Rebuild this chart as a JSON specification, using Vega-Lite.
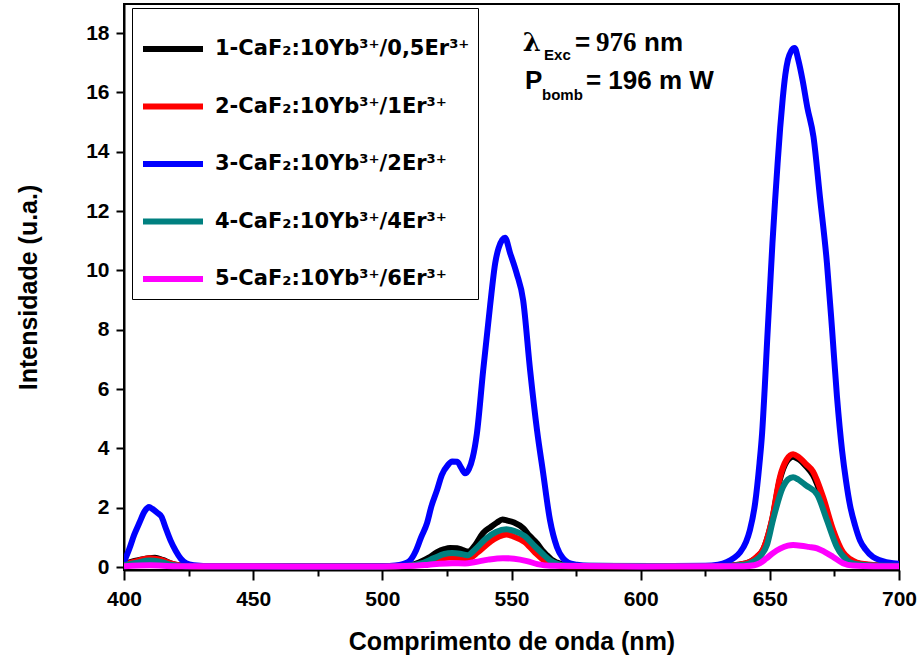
{
  "$schema": "https://vega.github.io/schema/vega-lite/v6.json",
  "width": 775,
  "height": 566,
  "autosize": {"type": "none"},
  "padding": {"left": 124, "top": 4, "right": 23, "bottom": 91},
  "background": "white",
  "config": {
    "font": "Liberation Sans",
    "view": {"stroke": "black", "strokeWidth": 2},
    "axis": {
      "domainColor": "black",
      "domainWidth": 2,
      "tickColor": "black",
      "tickWidth": 2,
      "labelColor": "black",
      "labelFont": "Liberation Sans",
      "labelFontWeight": "bold",
      "labelFontSize": 21,
      "titleFont": "Liberation Sans",
      "titleFontWeight": "bold",
      "titleFontSize": 25,
      "titleColor": "black",
      "grid": false
    }
  },
  "datasets": {
    "spectra": [
      {"amostra": "1-CaF₂:10Yb³⁺/0,5Er³⁺", "nm": 400, "i": 0.1},
      {"amostra": "1-CaF₂:10Yb³⁺/0,5Er³⁺", "nm": 405, "i": 0.22},
      {"amostra": "1-CaF₂:10Yb³⁺/0,5Er³⁺", "nm": 409.7, "i": 0.3},
      {"amostra": "1-CaF₂:10Yb³⁺/0,5Er³⁺", "nm": 412, "i": 0.31},
      {"amostra": "1-CaF₂:10Yb³⁺/0,5Er³⁺", "nm": 415, "i": 0.24},
      {"amostra": "1-CaF₂:10Yb³⁺/0,5Er³⁺", "nm": 419, "i": 0.1},
      {"amostra": "1-CaF₂:10Yb³⁺/0,5Er³⁺", "nm": 424, "i": 0.04},
      {"amostra": "1-CaF₂:10Yb³⁺/0,5Er³⁺", "nm": 430, "i": 0.02},
      {"amostra": "1-CaF₂:10Yb³⁺/0,5Er³⁺", "nm": 500, "i": 0.03},
      {"amostra": "1-CaF₂:10Yb³⁺/0,5Er³⁺", "nm": 510, "i": 0.05},
      {"amostra": "1-CaF₂:10Yb³⁺/0,5Er³⁺", "nm": 514.6, "i": 0.17},
      {"amostra": "1-CaF₂:10Yb³⁺/0,5Er³⁺", "nm": 518, "i": 0.32},
      {"amostra": "1-CaF₂:10Yb³⁺/0,5Er³⁺", "nm": 521.2, "i": 0.5},
      {"amostra": "1-CaF₂:10Yb³⁺/0,5Er³⁺", "nm": 524, "i": 0.6},
      {"amostra": "1-CaF₂:10Yb³⁺/0,5Er³⁺", "nm": 526.2, "i": 0.64},
      {"amostra": "1-CaF₂:10Yb³⁺/0,5Er³⁺", "nm": 529, "i": 0.63},
      {"amostra": "1-CaF₂:10Yb³⁺/0,5Er³⁺", "nm": 531.2, "i": 0.57},
      {"amostra": "1-CaF₂:10Yb³⁺/0,5Er³⁺", "nm": 533.2, "i": 0.52},
      {"amostra": "1-CaF₂:10Yb³⁺/0,5Er³⁺", "nm": 536, "i": 0.75},
      {"amostra": "1-CaF₂:10Yb³⁺/0,5Er³⁺", "nm": 539, "i": 1.15},
      {"amostra": "1-CaF₂:10Yb³⁺/0,5Er³⁺", "nm": 542, "i": 1.35},
      {"amostra": "1-CaF₂:10Yb³⁺/0,5Er³⁺", "nm": 544.4, "i": 1.5},
      {"amostra": "1-CaF₂:10Yb³⁺/0,5Er³⁺", "nm": 546.5, "i": 1.6},
      {"amostra": "1-CaF₂:10Yb³⁺/0,5Er³⁺", "nm": 548.3, "i": 1.57},
      {"amostra": "1-CaF₂:10Yb³⁺/0,5Er³⁺", "nm": 551, "i": 1.5},
      {"amostra": "1-CaF₂:10Yb³⁺/0,5Er³⁺", "nm": 554.5, "i": 1.31},
      {"amostra": "1-CaF₂:10Yb³⁺/0,5Er³⁺", "nm": 557, "i": 1.05},
      {"amostra": "1-CaF₂:10Yb³⁺/0,5Er³⁺", "nm": 559.9, "i": 0.8},
      {"amostra": "1-CaF₂:10Yb³⁺/0,5Er³⁺", "nm": 562, "i": 0.55},
      {"amostra": "1-CaF₂:10Yb³⁺/0,5Er³⁺", "nm": 563.7, "i": 0.4},
      {"amostra": "1-CaF₂:10Yb³⁺/0,5Er³⁺", "nm": 565.5, "i": 0.25},
      {"amostra": "1-CaF₂:10Yb³⁺/0,5Er³⁺", "nm": 567.6, "i": 0.15},
      {"amostra": "1-CaF₂:10Yb³⁺/0,5Er³⁺", "nm": 571, "i": 0.06},
      {"amostra": "1-CaF₂:10Yb³⁺/0,5Er³⁺", "nm": 576, "i": 0.03},
      {"amostra": "1-CaF₂:10Yb³⁺/0,5Er³⁺", "nm": 630, "i": 0.03},
      {"amostra": "1-CaF₂:10Yb³⁺/0,5Er³⁺", "nm": 638, "i": 0.08},
      {"amostra": "1-CaF₂:10Yb³⁺/0,5Er³⁺", "nm": 642.3, "i": 0.17},
      {"amostra": "1-CaF₂:10Yb³⁺/0,5Er³⁺", "nm": 645, "i": 0.33},
      {"amostra": "1-CaF₂:10Yb³⁺/0,5Er³⁺", "nm": 647.4, "i": 0.58},
      {"amostra": "1-CaF₂:10Yb³⁺/0,5Er³⁺", "nm": 650.8, "i": 1.55},
      {"amostra": "1-CaF₂:10Yb³⁺/0,5Er³⁺", "nm": 653.9, "i": 2.95},
      {"amostra": "1-CaF₂:10Yb³⁺/0,5Er³⁺", "nm": 656.5, "i": 3.55},
      {"amostra": "1-CaF₂:10Yb³⁺/0,5Er³⁺", "nm": 659, "i": 3.72},
      {"amostra": "1-CaF₂:10Yb³⁺/0,5Er³⁺", "nm": 661, "i": 3.64},
      {"amostra": "1-CaF₂:10Yb³⁺/0,5Er³⁺", "nm": 664, "i": 3.4},
      {"amostra": "1-CaF₂:10Yb³⁺/0,5Er³⁺", "nm": 666.7, "i": 3.1},
      {"amostra": "1-CaF₂:10Yb³⁺/0,5Er³⁺", "nm": 670.6, "i": 2.25},
      {"amostra": "1-CaF₂:10Yb³⁺/0,5Er³⁺", "nm": 674.5, "i": 1.18},
      {"amostra": "1-CaF₂:10Yb³⁺/0,5Er³⁺", "nm": 678.3, "i": 0.45},
      {"amostra": "1-CaF₂:10Yb³⁺/0,5Er³⁺", "nm": 681, "i": 0.25},
      {"amostra": "1-CaF₂:10Yb³⁺/0,5Er³⁺", "nm": 683.7, "i": 0.13},
      {"amostra": "1-CaF₂:10Yb³⁺/0,5Er³⁺", "nm": 690, "i": 0.06},
      {"amostra": "1-CaF₂:10Yb³⁺/0,5Er³⁺", "nm": 700, "i": 0.04},

      {"amostra": "2-CaF₂:10Yb³⁺/1Er³⁺", "nm": 400, "i": 0.08},
      {"amostra": "2-CaF₂:10Yb³⁺/1Er³⁺", "nm": 405, "i": 0.2},
      {"amostra": "2-CaF₂:10Yb³⁺/1Er³⁺", "nm": 409.7, "i": 0.3},
      {"amostra": "2-CaF₂:10Yb³⁺/1Er³⁺", "nm": 414, "i": 0.25},
      {"amostra": "2-CaF₂:10Yb³⁺/1Er³⁺", "nm": 418, "i": 0.12},
      {"amostra": "2-CaF₂:10Yb³⁺/1Er³⁺", "nm": 422, "i": 0.05},
      {"amostra": "2-CaF₂:10Yb³⁺/1Er³⁺", "nm": 430, "i": 0.02},
      {"amostra": "2-CaF₂:10Yb³⁺/1Er³⁺", "nm": 500, "i": 0.02},
      {"amostra": "2-CaF₂:10Yb³⁺/1Er³⁺", "nm": 510, "i": 0.04},
      {"amostra": "2-CaF₂:10Yb³⁺/1Er³⁺", "nm": 515, "i": 0.1},
      {"amostra": "2-CaF₂:10Yb³⁺/1Er³⁺", "nm": 520, "i": 0.22},
      {"amostra": "2-CaF₂:10Yb³⁺/1Er³⁺", "nm": 526, "i": 0.32},
      {"amostra": "2-CaF₂:10Yb³⁺/1Er³⁺", "nm": 531, "i": 0.3},
      {"amostra": "2-CaF₂:10Yb³⁺/1Er³⁺", "nm": 533, "i": 0.28},
      {"amostra": "2-CaF₂:10Yb³⁺/1Er³⁺", "nm": 537, "i": 0.5},
      {"amostra": "2-CaF₂:10Yb³⁺/1Er³⁺", "nm": 541, "i": 0.8},
      {"amostra": "2-CaF₂:10Yb³⁺/1Er³⁺", "nm": 545, "i": 1.02},
      {"amostra": "2-CaF₂:10Yb³⁺/1Er³⁺", "nm": 548, "i": 1.1},
      {"amostra": "2-CaF₂:10Yb³⁺/1Er³⁺", "nm": 551, "i": 1.02},
      {"amostra": "2-CaF₂:10Yb³⁺/1Er³⁺", "nm": 555, "i": 0.85},
      {"amostra": "2-CaF₂:10Yb³⁺/1Er³⁺", "nm": 559, "i": 0.5},
      {"amostra": "2-CaF₂:10Yb³⁺/1Er³⁺", "nm": 563, "i": 0.2},
      {"amostra": "2-CaF₂:10Yb³⁺/1Er³⁺", "nm": 567, "i": 0.07},
      {"amostra": "2-CaF₂:10Yb³⁺/1Er³⁺", "nm": 572, "i": 0.03},
      {"amostra": "2-CaF₂:10Yb³⁺/1Er³⁺", "nm": 630, "i": 0.03},
      {"amostra": "2-CaF₂:10Yb³⁺/1Er³⁺", "nm": 638, "i": 0.08},
      {"amostra": "2-CaF₂:10Yb³⁺/1Er³⁺", "nm": 642.3, "i": 0.17},
      {"amostra": "2-CaF₂:10Yb³⁺/1Er³⁺", "nm": 645, "i": 0.35},
      {"amostra": "2-CaF₂:10Yb³⁺/1Er³⁺", "nm": 647.4, "i": 0.6},
      {"amostra": "2-CaF₂:10Yb³⁺/1Er³⁺", "nm": 650.8, "i": 1.58},
      {"amostra": "2-CaF₂:10Yb³⁺/1Er³⁺", "nm": 653.9, "i": 3.03},
      {"amostra": "2-CaF₂:10Yb³⁺/1Er³⁺", "nm": 656.5, "i": 3.62},
      {"amostra": "2-CaF₂:10Yb³⁺/1Er³⁺", "nm": 659, "i": 3.8},
      {"amostra": "2-CaF₂:10Yb³⁺/1Er³⁺", "nm": 661, "i": 3.72},
      {"amostra": "2-CaF₂:10Yb³⁺/1Er³⁺", "nm": 664, "i": 3.47},
      {"amostra": "2-CaF₂:10Yb³⁺/1Er³⁺", "nm": 666.7, "i": 3.22},
      {"amostra": "2-CaF₂:10Yb³⁺/1Er³⁺", "nm": 670.6, "i": 2.36},
      {"amostra": "2-CaF₂:10Yb³⁺/1Er³⁺", "nm": 674.5, "i": 1.25},
      {"amostra": "2-CaF₂:10Yb³⁺/1Er³⁺", "nm": 678.3, "i": 0.5},
      {"amostra": "2-CaF₂:10Yb³⁺/1Er³⁺", "nm": 681, "i": 0.27},
      {"amostra": "2-CaF₂:10Yb³⁺/1Er³⁺", "nm": 683.7, "i": 0.15},
      {"amostra": "2-CaF₂:10Yb³⁺/1Er³⁺", "nm": 690, "i": 0.07},
      {"amostra": "2-CaF₂:10Yb³⁺/1Er³⁺", "nm": 700, "i": 0.04},

      {"amostra": "3-CaF₂:10Yb³⁺/2Er³⁺", "nm": 400, "i": 0.17},
      {"amostra": "3-CaF₂:10Yb³⁺/2Er³⁺", "nm": 402, "i": 0.6},
      {"amostra": "3-CaF₂:10Yb³⁺/2Er³⁺", "nm": 404, "i": 1.1},
      {"amostra": "3-CaF₂:10Yb³⁺/2Er³⁺", "nm": 406, "i": 1.5},
      {"amostra": "3-CaF₂:10Yb³⁺/2Er³⁺", "nm": 408, "i": 1.88},
      {"amostra": "3-CaF₂:10Yb³⁺/2Er³⁺", "nm": 409.7, "i": 2.02},
      {"amostra": "3-CaF₂:10Yb³⁺/2Er³⁺", "nm": 411, "i": 1.96},
      {"amostra": "3-CaF₂:10Yb³⁺/2Er³⁺", "nm": 413, "i": 1.82},
      {"amostra": "3-CaF₂:10Yb³⁺/2Er³⁺", "nm": 414.5, "i": 1.7},
      {"amostra": "3-CaF₂:10Yb³⁺/2Er³⁺", "nm": 416, "i": 1.35},
      {"amostra": "3-CaF₂:10Yb³⁺/2Er³⁺", "nm": 418, "i": 0.9},
      {"amostra": "3-CaF₂:10Yb³⁺/2Er³⁺", "nm": 420, "i": 0.55},
      {"amostra": "3-CaF₂:10Yb³⁺/2Er³⁺", "nm": 422, "i": 0.28},
      {"amostra": "3-CaF₂:10Yb³⁺/2Er³⁺", "nm": 424, "i": 0.13},
      {"amostra": "3-CaF₂:10Yb³⁺/2Er³⁺", "nm": 427, "i": 0.06},
      {"amostra": "3-CaF₂:10Yb³⁺/2Er³⁺", "nm": 432, "i": 0.03},
      {"amostra": "3-CaF₂:10Yb³⁺/2Er³⁺", "nm": 450, "i": 0.02},
      {"amostra": "3-CaF₂:10Yb³⁺/2Er³⁺", "nm": 480, "i": 0.02},
      {"amostra": "3-CaF₂:10Yb³⁺/2Er³⁺", "nm": 500, "i": 0.03},
      {"amostra": "3-CaF₂:10Yb³⁺/2Er³⁺", "nm": 505, "i": 0.05},
      {"amostra": "3-CaF₂:10Yb³⁺/2Er³⁺", "nm": 508, "i": 0.1},
      {"amostra": "3-CaF₂:10Yb³⁺/2Er³⁺", "nm": 510.7, "i": 0.22},
      {"amostra": "3-CaF₂:10Yb³⁺/2Er³⁺", "nm": 513, "i": 0.55},
      {"amostra": "3-CaF₂:10Yb³⁺/2Er³⁺", "nm": 515, "i": 1.0},
      {"amostra": "3-CaF₂:10Yb³⁺/2Er³⁺", "nm": 517.3, "i": 1.48},
      {"amostra": "3-CaF₂:10Yb³⁺/2Er³⁺", "nm": 519, "i": 2.05},
      {"amostra": "3-CaF₂:10Yb³⁺/2Er³⁺", "nm": 521.2, "i": 2.6},
      {"amostra": "3-CaF₂:10Yb³⁺/2Er³⁺", "nm": 523, "i": 3.1},
      {"amostra": "3-CaF₂:10Yb³⁺/2Er³⁺", "nm": 525.4, "i": 3.44},
      {"amostra": "3-CaF₂:10Yb³⁺/2Er³⁺", "nm": 527, "i": 3.56},
      {"amostra": "3-CaF₂:10Yb³⁺/2Er³⁺", "nm": 529, "i": 3.55},
      {"amostra": "3-CaF₂:10Yb³⁺/2Er³⁺", "nm": 530.5, "i": 3.35},
      {"amostra": "3-CaF₂:10Yb³⁺/2Er³⁺", "nm": 532, "i": 3.16},
      {"amostra": "3-CaF₂:10Yb³⁺/2Er³⁺", "nm": 533.5, "i": 3.3},
      {"amostra": "3-CaF₂:10Yb³⁺/2Er³⁺", "nm": 535, "i": 3.7},
      {"amostra": "3-CaF₂:10Yb³⁺/2Er³⁺", "nm": 536.6, "i": 4.5},
      {"amostra": "3-CaF₂:10Yb³⁺/2Er³⁺", "nm": 539, "i": 6.6},
      {"amostra": "3-CaF₂:10Yb³⁺/2Er³⁺", "nm": 541.7, "i": 8.8},
      {"amostra": "3-CaF₂:10Yb³⁺/2Er³⁺", "nm": 543.7, "i": 10.25},
      {"amostra": "3-CaF₂:10Yb³⁺/2Er³⁺", "nm": 545, "i": 10.75},
      {"amostra": "3-CaF₂:10Yb³⁺/2Er³⁺", "nm": 547.5, "i": 11.1},
      {"amostra": "3-CaF₂:10Yb³⁺/2Er³⁺", "nm": 549.4, "i": 10.6},
      {"amostra": "3-CaF₂:10Yb³⁺/2Er³⁺", "nm": 552, "i": 9.9},
      {"amostra": "3-CaF₂:10Yb³⁺/2Er³⁺", "nm": 554.5, "i": 9.0},
      {"amostra": "3-CaF₂:10Yb³⁺/2Er³⁺", "nm": 557.2, "i": 6.64},
      {"amostra": "3-CaF₂:10Yb³⁺/2Er³⁺", "nm": 559.9, "i": 4.6},
      {"amostra": "3-CaF₂:10Yb³⁺/2Er³⁺", "nm": 562.2, "i": 3.2},
      {"amostra": "3-CaF₂:10Yb³⁺/2Er³⁺", "nm": 564.9, "i": 1.58},
      {"amostra": "3-CaF₂:10Yb³⁺/2Er³⁺", "nm": 567.6, "i": 0.67},
      {"amostra": "3-CaF₂:10Yb³⁺/2Er³⁺", "nm": 569.9, "i": 0.3},
      {"amostra": "3-CaF₂:10Yb³⁺/2Er³⁺", "nm": 572, "i": 0.15},
      {"amostra": "3-CaF₂:10Yb³⁺/2Er³⁺", "nm": 575.3, "i": 0.08},
      {"amostra": "3-CaF₂:10Yb³⁺/2Er³⁺", "nm": 580, "i": 0.04},
      {"amostra": "3-CaF₂:10Yb³⁺/2Er³⁺", "nm": 600, "i": 0.03},
      {"amostra": "3-CaF₂:10Yb³⁺/2Er³⁺", "nm": 625, "i": 0.04},
      {"amostra": "3-CaF₂:10Yb³⁺/2Er³⁺", "nm": 630, "i": 0.08},
      {"amostra": "3-CaF₂:10Yb³⁺/2Er³⁺", "nm": 633.4, "i": 0.17},
      {"amostra": "3-CaF₂:10Yb³⁺/2Er³⁺", "nm": 636, "i": 0.3},
      {"amostra": "3-CaF₂:10Yb³⁺/2Er³⁺", "nm": 638.5, "i": 0.5},
      {"amostra": "3-CaF₂:10Yb³⁺/2Er³⁺", "nm": 640.8, "i": 0.85},
      {"amostra": "3-CaF₂:10Yb³⁺/2Er³⁺", "nm": 642.3, "i": 1.25},
      {"amostra": "3-CaF₂:10Yb³⁺/2Er³⁺", "nm": 644.3, "i": 2.15},
      {"amostra": "3-CaF₂:10Yb³⁺/2Er³⁺", "nm": 646, "i": 3.5},
      {"amostra": "3-CaF₂:10Yb³⁺/2Er³⁺", "nm": 647, "i": 4.5},
      {"amostra": "3-CaF₂:10Yb³⁺/2Er³⁺", "nm": 648, "i": 6.0},
      {"amostra": "3-CaF₂:10Yb³⁺/2Er³⁺", "nm": 649, "i": 7.7},
      {"amostra": "3-CaF₂:10Yb³⁺/2Er³⁺", "nm": 650, "i": 9.3},
      {"amostra": "3-CaF₂:10Yb³⁺/2Er³⁺", "nm": 651, "i": 10.9},
      {"amostra": "3-CaF₂:10Yb³⁺/2Er³⁺", "nm": 652, "i": 12.3},
      {"amostra": "3-CaF₂:10Yb³⁺/2Er³⁺", "nm": 653, "i": 13.6},
      {"amostra": "3-CaF₂:10Yb³⁺/2Er³⁺", "nm": 654, "i": 14.8},
      {"amostra": "3-CaF₂:10Yb³⁺/2Er³⁺", "nm": 655, "i": 15.8},
      {"amostra": "3-CaF₂:10Yb³⁺/2Er³⁺", "nm": 656, "i": 16.6},
      {"amostra": "3-CaF₂:10Yb³⁺/2Er³⁺", "nm": 657, "i": 17.1},
      {"amostra": "3-CaF₂:10Yb³⁺/2Er³⁺", "nm": 658.3, "i": 17.4},
      {"amostra": "3-CaF₂:10Yb³⁺/2Er³⁺", "nm": 659.6, "i": 17.5},
      {"amostra": "3-CaF₂:10Yb³⁺/2Er³⁺", "nm": 661, "i": 17.1},
      {"amostra": "3-CaF₂:10Yb³⁺/2Er³⁺", "nm": 662.7, "i": 16.4},
      {"amostra": "3-CaF₂:10Yb³⁺/2Er³⁺", "nm": 664.5, "i": 15.5},
      {"amostra": "3-CaF₂:10Yb³⁺/2Er³⁺", "nm": 666.9, "i": 14.5},
      {"amostra": "3-CaF₂:10Yb³⁺/2Er³⁺", "nm": 669.4, "i": 12.47},
      {"amostra": "3-CaF₂:10Yb³⁺/2Er³⁺", "nm": 672.1, "i": 10.25},
      {"amostra": "3-CaF₂:10Yb³⁺/2Er³⁺", "nm": 674.1, "i": 8.0},
      {"amostra": "3-CaF₂:10Yb³⁺/2Er³⁺", "nm": 676, "i": 5.73},
      {"amostra": "3-CaF₂:10Yb³⁺/2Er³⁺", "nm": 678, "i": 3.9},
      {"amostra": "3-CaF₂:10Yb³⁺/2Er³⁺", "nm": 679.5, "i": 2.9},
      {"amostra": "3-CaF₂:10Yb³⁺/2Er³⁺", "nm": 681, "i": 2.1},
      {"amostra": "3-CaF₂:10Yb³⁺/2Er³⁺", "nm": 683, "i": 1.4},
      {"amostra": "3-CaF₂:10Yb³⁺/2Er³⁺", "nm": 684.9, "i": 0.9},
      {"amostra": "3-CaF₂:10Yb³⁺/2Er³⁺", "nm": 687, "i": 0.6},
      {"amostra": "3-CaF₂:10Yb³⁺/2Er³⁺", "nm": 689.9, "i": 0.34},
      {"amostra": "3-CaF₂:10Yb³⁺/2Er³⁺", "nm": 693, "i": 0.22},
      {"amostra": "3-CaF₂:10Yb³⁺/2Er³⁺", "nm": 697.7, "i": 0.13},
      {"amostra": "3-CaF₂:10Yb³⁺/2Er³⁺", "nm": 700, "i": 0.11},

      {"amostra": "4-CaF₂:10Yb³⁺/4Er³⁺", "nm": 400, "i": 0.06},
      {"amostra": "4-CaF₂:10Yb³⁺/4Er³⁺", "nm": 405, "i": 0.15},
      {"amostra": "4-CaF₂:10Yb³⁺/4Er³⁺", "nm": 409.7, "i": 0.22},
      {"amostra": "4-CaF₂:10Yb³⁺/4Er³⁺", "nm": 414, "i": 0.18},
      {"amostra": "4-CaF₂:10Yb³⁺/4Er³⁺", "nm": 418, "i": 0.08},
      {"amostra": "4-CaF₂:10Yb³⁺/4Er³⁺", "nm": 424, "i": 0.03},
      {"amostra": "4-CaF₂:10Yb³⁺/4Er³⁺", "nm": 500, "i": 0.02},
      {"amostra": "4-CaF₂:10Yb³⁺/4Er³⁺", "nm": 510, "i": 0.04},
      {"amostra": "4-CaF₂:10Yb³⁺/4Er³⁺", "nm": 515, "i": 0.12},
      {"amostra": "4-CaF₂:10Yb³⁺/4Er³⁺", "nm": 520, "i": 0.3},
      {"amostra": "4-CaF₂:10Yb³⁺/4Er³⁺", "nm": 524, "i": 0.44},
      {"amostra": "4-CaF₂:10Yb³⁺/4Er³⁺", "nm": 527, "i": 0.47},
      {"amostra": "4-CaF₂:10Yb³⁺/4Er³⁺", "nm": 530, "i": 0.45},
      {"amostra": "4-CaF₂:10Yb³⁺/4Er³⁺", "nm": 533, "i": 0.4},
      {"amostra": "4-CaF₂:10Yb³⁺/4Er³⁺", "nm": 536, "i": 0.6},
      {"amostra": "4-CaF₂:10Yb³⁺/4Er³⁺", "nm": 540, "i": 0.95},
      {"amostra": "4-CaF₂:10Yb³⁺/4Er³⁺", "nm": 544, "i": 1.18},
      {"amostra": "4-CaF₂:10Yb³⁺/4Er³⁺", "nm": 548, "i": 1.27},
      {"amostra": "4-CaF₂:10Yb³⁺/4Er³⁺", "nm": 551, "i": 1.22},
      {"amostra": "4-CaF₂:10Yb³⁺/4Er³⁺", "nm": 555, "i": 1.05},
      {"amostra": "4-CaF₂:10Yb³⁺/4Er³⁺", "nm": 559, "i": 0.7},
      {"amostra": "4-CaF₂:10Yb³⁺/4Er³⁺", "nm": 562, "i": 0.45},
      {"amostra": "4-CaF₂:10Yb³⁺/4Er³⁺", "nm": 565, "i": 0.22},
      {"amostra": "4-CaF₂:10Yb³⁺/4Er³⁺", "nm": 568, "i": 0.1},
      {"amostra": "4-CaF₂:10Yb³⁺/4Er³⁺", "nm": 572, "i": 0.04},
      {"amostra": "4-CaF₂:10Yb³⁺/4Er³⁺", "nm": 630, "i": 0.03},
      {"amostra": "4-CaF₂:10Yb³⁺/4Er³⁺", "nm": 640, "i": 0.08},
      {"amostra": "4-CaF₂:10Yb³⁺/4Er³⁺", "nm": 644, "i": 0.2},
      {"amostra": "4-CaF₂:10Yb³⁺/4Er³⁺", "nm": 646.5, "i": 0.38},
      {"amostra": "4-CaF₂:10Yb³⁺/4Er³⁺", "nm": 648.9, "i": 0.75},
      {"amostra": "4-CaF₂:10Yb³⁺/4Er³⁺", "nm": 651.2, "i": 1.58},
      {"amostra": "4-CaF₂:10Yb³⁺/4Er³⁺", "nm": 655.1, "i": 2.7},
      {"amostra": "4-CaF₂:10Yb³⁺/4Er³⁺", "nm": 657, "i": 2.95},
      {"amostra": "4-CaF₂:10Yb³⁺/4Er³⁺", "nm": 659, "i": 3.03},
      {"amostra": "4-CaF₂:10Yb³⁺/4Er³⁺", "nm": 661, "i": 2.95},
      {"amostra": "4-CaF₂:10Yb³⁺/4Er³⁺", "nm": 664, "i": 2.75},
      {"amostra": "4-CaF₂:10Yb³⁺/4Er³⁺", "nm": 668.3, "i": 2.45},
      {"amostra": "4-CaF₂:10Yb³⁺/4Er³⁺", "nm": 672.1, "i": 1.58},
      {"amostra": "4-CaF₂:10Yb³⁺/4Er³⁺", "nm": 676, "i": 0.67},
      {"amostra": "4-CaF₂:10Yb³⁺/4Er³⁺", "nm": 679.9, "i": 0.23},
      {"amostra": "4-CaF₂:10Yb³⁺/4Er³⁺", "nm": 683, "i": 0.1},
      {"amostra": "4-CaF₂:10Yb³⁺/4Er³⁺", "nm": 690, "i": 0.05},
      {"amostra": "4-CaF₂:10Yb³⁺/4Er³⁺", "nm": 700, "i": 0.04},

      {"amostra": "5-CaF₂:10Yb³⁺/6Er³⁺", "nm": 400, "i": 0.03},
      {"amostra": "5-CaF₂:10Yb³⁺/6Er³⁺", "nm": 410, "i": 0.06},
      {"amostra": "5-CaF₂:10Yb³⁺/6Er³⁺", "nm": 420, "i": 0.03},
      {"amostra": "5-CaF₂:10Yb³⁺/6Er³⁺", "nm": 500, "i": 0.02},
      {"amostra": "5-CaF₂:10Yb³⁺/6Er³⁺", "nm": 512, "i": 0.04},
      {"amostra": "5-CaF₂:10Yb³⁺/6Er³⁺", "nm": 518, "i": 0.08},
      {"amostra": "5-CaF₂:10Yb³⁺/6Er³⁺", "nm": 522, "i": 0.11},
      {"amostra": "5-CaF₂:10Yb³⁺/6Er³⁺", "nm": 527, "i": 0.13},
      {"amostra": "5-CaF₂:10Yb³⁺/6Er³⁺", "nm": 532, "i": 0.12},
      {"amostra": "5-CaF₂:10Yb³⁺/6Er³⁺", "nm": 536, "i": 0.17},
      {"amostra": "5-CaF₂:10Yb³⁺/6Er³⁺", "nm": 541, "i": 0.25},
      {"amostra": "5-CaF₂:10Yb³⁺/6Er³⁺", "nm": 546.7, "i": 0.3},
      {"amostra": "5-CaF₂:10Yb³⁺/6Er³⁺", "nm": 551, "i": 0.28},
      {"amostra": "5-CaF₂:10Yb³⁺/6Er³⁺", "nm": 556, "i": 0.2},
      {"amostra": "5-CaF₂:10Yb³⁺/6Er³⁺", "nm": 560, "i": 0.1},
      {"amostra": "5-CaF₂:10Yb³⁺/6Er³⁺", "nm": 565, "i": 0.04},
      {"amostra": "5-CaF₂:10Yb³⁺/6Er³⁺", "nm": 600, "i": 0.02},
      {"amostra": "5-CaF₂:10Yb³⁺/6Er³⁺", "nm": 640, "i": 0.03},
      {"amostra": "5-CaF₂:10Yb³⁺/6Er³⁺", "nm": 644, "i": 0.06},
      {"amostra": "5-CaF₂:10Yb³⁺/6Er³⁺", "nm": 646.2, "i": 0.13},
      {"amostra": "5-CaF₂:10Yb³⁺/6Er³⁺", "nm": 648.5, "i": 0.28},
      {"amostra": "5-CaF₂:10Yb³⁺/6Er³⁺", "nm": 651.2, "i": 0.47},
      {"amostra": "5-CaF₂:10Yb³⁺/6Er³⁺", "nm": 654, "i": 0.62},
      {"amostra": "5-CaF₂:10Yb³⁺/6Er³⁺", "nm": 657, "i": 0.72},
      {"amostra": "5-CaF₂:10Yb³⁺/6Er³⁺", "nm": 659, "i": 0.74},
      {"amostra": "5-CaF₂:10Yb³⁺/6Er³⁺", "nm": 662, "i": 0.72},
      {"amostra": "5-CaF₂:10Yb³⁺/6Er³⁺", "nm": 665, "i": 0.68},
      {"amostra": "5-CaF₂:10Yb³⁺/6Er³⁺", "nm": 668.3, "i": 0.63},
      {"amostra": "5-CaF₂:10Yb³⁺/6Er³⁺", "nm": 671, "i": 0.52},
      {"amostra": "5-CaF₂:10Yb³⁺/6Er³⁺", "nm": 674.5, "i": 0.34},
      {"amostra": "5-CaF₂:10Yb³⁺/6Er³⁺", "nm": 678.3, "i": 0.13},
      {"amostra": "5-CaF₂:10Yb³⁺/6Er³⁺", "nm": 682, "i": 0.05},
      {"amostra": "5-CaF₂:10Yb³⁺/6Er³⁺", "nm": 690, "i": 0.03},
      {"amostra": "5-CaF₂:10Yb³⁺/6Er³⁺", "nm": 700, "i": 0.03}
    ],
    "anchor": [{}]
  },
  "layer": [
    {
      "data": {"name": "spectra"},
      "mark": {"type": "line", "strokeWidth": 6, "interpolate": "monotone", "strokeJoin": "round", "strokeCap": "butt", "clip": true},
      "encoding": {
        "x": {
          "field": "nm", "type": "quantitative",
          "scale": {"domain": [400, 700], "nice": false, "zero": false},
          "axis": {
            "title": "Comprimento de onda (nm)",
            "values": [400, 425, 450, 475, 500, 525, 550, 575, 600, 625, 650, 675, 700],
            "labelExpr": "datum.value % 50 === 0 ? datum.label : ''",
            "tickSize": {"condition": {"test": "datum.value % 50 === 0", "value": 10}, "value": 6},
            "labelPadding": 8,
            "labelFlush": false,
            "labelOverlap": false,
            "titlePadding": 20
          }
        },
        "y": {
          "field": "i", "type": "quantitative",
          "scale": {"domain": [-0.1, 18.98], "nice": false, "zero": false},
          "axis": {
            "title": "Intensidade (u.a.)",
            "values": [0, 1, 2, 3, 4, 5, 6, 7, 8, 9, 10, 11, 12, 13, 14, 15, 16, 17, 18],
            "labelExpr": "datum.value % 2 === 0 ? datum.label : ''",
            "tickSize": {"condition": {"test": "datum.value % 2 === 0", "value": 8}, "value": 5},
            "labelPadding": 7,
            "labelFlush": false,
            "labelOverlap": false,
            "titlePadding": 44
          }
        },
        "color": {
          "field": "amostra", "type": "nominal",
          "scale": {
            "domain": ["1-CaF₂:10Yb³⁺/0,5Er³⁺", "2-CaF₂:10Yb³⁺/1Er³⁺", "3-CaF₂:10Yb³⁺/2Er³⁺", "4-CaF₂:10Yb³⁺/4Er³⁺", "5-CaF₂:10Yb³⁺/6Er³⁺"],
            "range": ["#000000", "#ff0000", "#0000ff", "#008080", "#ff00ff"]
          },
          "legend": {
            "title": null,
            "orient": "none",
            "legendX": 8,
            "legendY": 4,
            "symbolType": "stroke",
            "symbolSize": 3600,
            "symbolStrokeWidth": 6,
            "rowPadding": 12.5,
            "padding": 8,
            "labelOffset": 9,
            "labelFont": "DejaVu Sans",
            "labelFontWeight": "bold",
            "labelFontSize": 21,
            "labelColor": "black",
            "labelLimit": 400,
            "strokeColor": "black",
            "fillColor": "white"
          }
        }
      }
    },
    {
      "data": {"name": "anchor"},
      "mark": {"type": "text", "text": "λ", "font": "DejaVu Serif", "fontWeight": "bold", "fontSize": 26, "align": "left", "baseline": "alphabetic", "color": "black"},
      "encoding": {"x": {"datum": 554.4}, "y": {"datum": 17.4}}
    },
    {
      "data": {"name": "anchor"},
      "mark": {"type": "text", "text": "Exc", "font": "Liberation Sans", "fontWeight": "bold", "fontSize": 15, "align": "left", "baseline": "alphabetic", "color": "black"},
      "encoding": {"x": {"datum": 562.6}, "y": {"datum": 17.1}}
    },
    {
      "data": {"name": "anchor"},
      "mark": {"type": "text", "text": "=", "font": "Liberation Sans", "fontWeight": "bold", "fontSize": 26, "align": "left", "baseline": "alphabetic", "color": "black"},
      "encoding": {"x": {"datum": 574.6}, "y": {"datum": 17.4}}
    },
    {
      "data": {"name": "anchor"},
      "mark": {"type": "text", "text": "976", "font": "Liberation Serif", "fontWeight": "bold", "fontSize": 27, "align": "left", "baseline": "alphabetic", "color": "black"},
      "encoding": {"x": {"datum": 582.7}, "y": {"datum": 17.4}}
    },
    {
      "data": {"name": "anchor"},
      "mark": {"type": "text", "text": "nm", "font": "Liberation Sans", "fontWeight": "bold", "fontSize": 26, "align": "left", "baseline": "alphabetic", "color": "black"},
      "encoding": {"x": {"datum": 601.3}, "y": {"datum": 17.4}}
    },
    {
      "data": {"name": "anchor"},
      "mark": {"type": "text", "text": "P", "font": "Liberation Sans", "fontWeight": "bold", "fontSize": 26, "align": "left", "baseline": "alphabetic", "color": "black"},
      "encoding": {"x": {"datum": 555.2}, "y": {"datum": 16.1}}
    },
    {
      "data": {"name": "anchor"},
      "mark": {"type": "text", "text": "bomb", "font": "Liberation Sans", "fontWeight": "bold", "fontSize": 15, "align": "left", "baseline": "alphabetic", "color": "black"},
      "encoding": {"x": {"datum": 561.8}, "y": {"datum": 15.75}}
    },
    {
      "data": {"name": "anchor"},
      "mark": {"type": "text", "text": "= 196 m W", "font": "Liberation Sans", "fontWeight": "bold", "fontSize": 26, "align": "left", "baseline": "alphabetic", "color": "black"},
      "encoding": {"x": {"datum": 578.8}, "y": {"datum": 16.1}}
    }
  ]
}
